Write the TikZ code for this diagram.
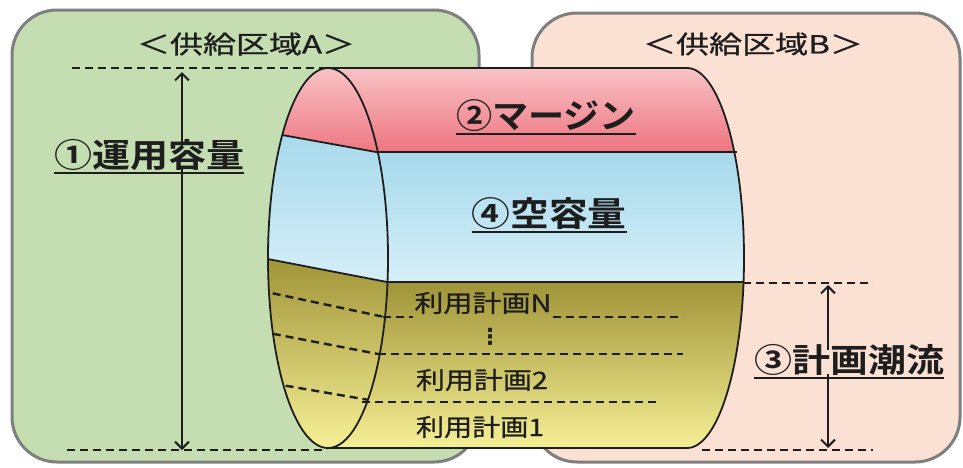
\documentclass[tikz,border=0pt]{standalone}
\usepackage{fontspec}
\usepackage{graphicx}
\setmainfont{Noto Sans CJK JP}[FakeBold=0.8]
\newfontfamily\jpb{Noto Sans CJK JP Bold}
\newfontfamily\djv{DejaVu Sans}
\usetikzlibrary{arrows.meta}
\definecolor{areaA}{HTML}{C4DEB2}
\definecolor{areaB}{HTML}{FBE1D4}
\definecolor{frameG}{HTML}{7F7F7F}
\definecolor{redT}{HTML}{F9CACB}
\definecolor{redB}{HTML}{EE7480}
\definecolor{bluT}{HTML}{A6D9EC}
\definecolor{bluB}{HTML}{D6EFF8}
\definecolor{yelT}{HTML}{A09438}
\definecolor{yelB}{HTML}{F6F096}
\definecolor{ink}{HTML}{1E1E1E}
\newcommand\fitw[2]{\resizebox{#1}{\height}{#2}}
\newcommand\ulw[3]{\vbox{\hbox{\fontsize{#2}{#2}\selectfont\jpb\resizebox{#1}{\height}{#3}}\kern1.5pt\hrule height 2.2pt}}
\tikzset{
  area/.style={rounded corners=45pt, line width=3pt, draw=frameG},
  edge/.style={draw=ink, line width=1.8pt},
  dline/.style={draw=ink, line width=2.4pt, dash pattern=on 8pt off 5pt},
  arr/.style={draw=ink, line width=2.2pt, -{Straight Barb[length=7pt,width=14pt,line width=2pt]}},
  lab/.style={inner sep=0pt, text=ink},
}
\begin{document}
\begin{tikzpicture}[x=1pt,y=-1pt]
\useasboundingbox (0,0) rectangle (963,467);
% areas
\path[area, fill=areaB] (532,13) rectangle (960,462);
\path[area, fill=areaA] (12,10) rectangle (479,462);
% body
\begin{scope}
  \clip (328,68) -- (687,68) arc[start angle=-90,end angle=90,x radius=57,y radius=190] -- (328,448) -- cycle;
  \shade[top color=redT, bottom color=redB] (320,60) rectangle (760,152);
  \shade[top color=bluT, bottom color=bluB] (320,152) rectangle (760,282);
  \shade[top color=yelT, bottom color=yelB] (320,282) rectangle (760,450);
\end{scope}
% front face
\begin{scope}
  \clip (328,258) ellipse[x radius=60, y radius=190];
  \shade[top color=redT, bottom color=redB] (260,60) -- (400,60) -- (400,156.3) -- (260,131) -- cycle;
  \shade[top color=bluT, bottom color=bluB] (260,131) -- (400,156.3) -- (400,284.5) -- (260,257.5) -- cycle;
  \shade[top color=yelT, bottom color=yelB] (260,257.5) -- (400,284.5) -- (400,450) -- (260,450) -- cycle;
  \draw[edge] (260,131) -- (400,156.3);
  \draw[edge] (260,257.5) -- (400,284.5);
  \draw[dline] (260,290.6) -- (400,320.3);
  \draw[dline] (260,331.3) -- (400,358.2);
  \draw[dline] (260,381.3) -- (400,405.3);
\end{scope}
% outlines
\draw[edge] (328,68) -- (687,68) arc[start angle=-90,end angle=90,x radius=57,y radius=190] -- (328,448);
\draw[edge] (328,258) ellipse[x radius=60, y radius=190];
\draw[edge] (376,152) -- (737,152);
\draw[edge] (387,282) -- (743,282);
% internal dashed lines
\node[lab] (pN) at (483,303) {\fontsize{24}{24}\selectfont\fitw{137pt}{利用計画N}};
\node[lab] (p2) at (482,380) {\fontsize{24}{24}\selectfont\fitw{132pt}{利用計画2}};
\node[lab] (p1) at (480,427) {\fontsize{24}{24}\selectfont\fitw{128pt}{利用計画1}};
\coordinate (d1a) at (383,317);
\coordinate (d1b) at (413,317);
\coordinate (d1c) at (553,317);
\coordinate (d1d) at (683,317);
\coordinate (d2a) at (378,354);
\coordinate (d2b) at (683,354);
\coordinate (d3a) at (362,402);
\coordinate (d3b) at (660,402);
\draw[dline] (d1a) -- (d1b);
\draw[dline] (d1c) -- (d1d);
\draw[dline] (d2a) -- (d2b);
\draw[dline] (d3a) -- (d3b);
\node[lab] (dots) at (490,337) {\djv\fontsize{22}{22}\selectfont\bfseries ⋮};
% outer dashed lines
\coordinate (tA) at (72,68);
\coordinate (tB) at (330,68);
\coordinate (bA) at (67,450);
\coordinate (bB) at (327,450);
\coordinate (bC) at (702,450);
\coordinate (bD) at (873,450);
\coordinate (mC) at (743,283);
\coordinate (mD) at (873,283);
\draw[dline] (tA) -- (tB);
\draw[dline] (bA) -- (bB);
\draw[dline] (bC) -- (bD);
\draw[dline] (mC) -- (mD);
% labels
\node[lab] (la) at (246,44) {\fontsize{25}{25}\selectfont\fitw{218pt}{＜供給区域A＞}};
\node[lab] (lb) at (753,44) {\fontsize{25}{25}\selectfont\fitw{220pt}{＜供給区域B＞}};
\node[lab] (q1) at (149,157) {\ulw{190pt}{33}{①運用容量}};
\node[lab] (q2) at (546,117) {\ulw{180pt}{34}{②マージン}};
\node[lab] (q4) at (549,215) {\ulw{155pt}{34}{④空容量}};
\node[lab] (q3) at (849,362) {\ulw{190pt}{33}{③計画潮流}};
% arrows
\coordinate (a1t) at (182,72);
\coordinate (a1b) at (182,450);
\coordinate (a3t) at (828,285);
\coordinate (a3b) at (828,448);
\draw[arr] ([yshift=-8pt]q1.north -| a1t) -- (a1t);
\draw[arr] ([yshift=8pt]q1.south -| a1b) -- (a1b);
\draw[arr] ([yshift=-6pt]q3.north -| a3t) -- (a3t);
\draw[arr] ([yshift=6pt]q3.south -| a3b) -- (a3b);
\end{tikzpicture}
\end{document}
